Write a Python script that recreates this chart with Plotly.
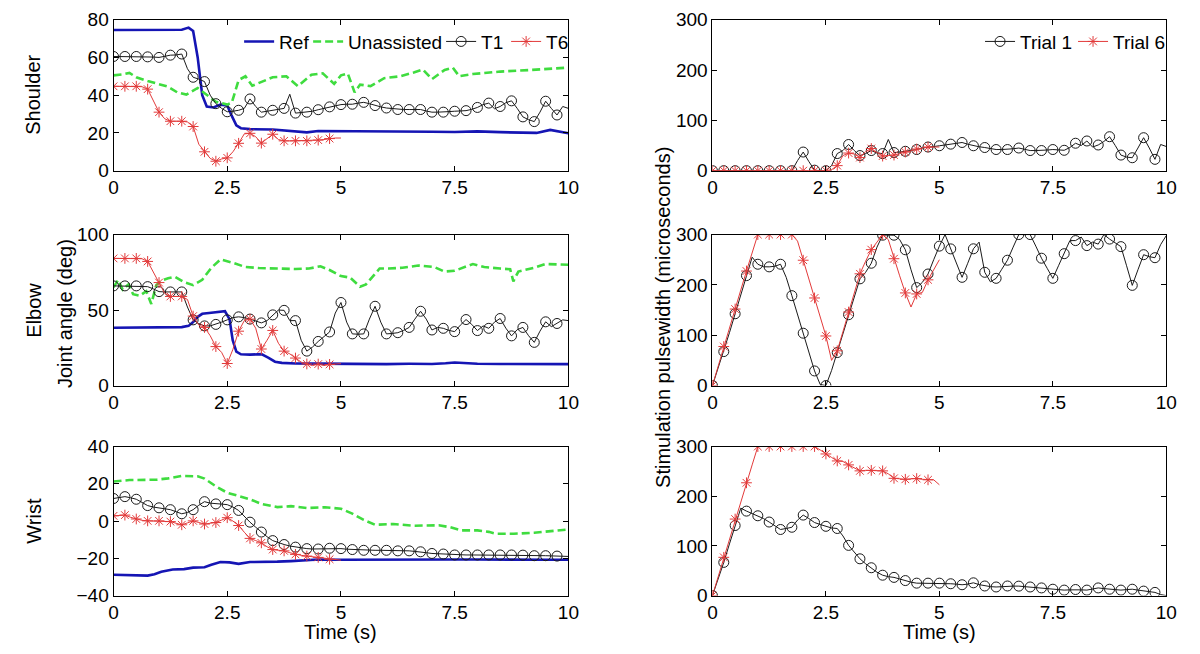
import numpy as np
import plotly.graph_objects as go

# ---------------- time grids ----------------
T_FULL = np.round(np.arange(0, 10.0001, 0.125), 3)   # trial 1 sampling (0..10 s)
T_HALF = T_FULL[:41]                                   # trial 6 sampling (0..5 s)

X_TICKS = [0, 2.5, 5, 7.5, 10]
X_TICKTEXT = ["0", "2.5", "5", "7.5", "10"]

# ---------------- joint angles: shoulder ----------------
ref_sh_t = [0, 0.5, 1.0, 1.5, 1.65, 1.75, 1.85, 1.95, 2.05, 2.2, 2.35, 2.5, 2.6, 2.7, 2.8, 3.0,
            3.5, 4.0, 4.25, 4.5, 5, 5.5, 6, 6.5, 7, 7.5, 8, 8.5, 9, 9.3, 9.6, 10]
ref_sh_v = [74.5, 74.5, 74.5, 74.7, 75.8, 74, 60, 40, 34, 33.5, 35, 34.5, 29, 24, 22.5, 22,
            21.8, 21, 20.3, 21, 21, 20.8, 21, 20.8, 20.6, 20.5, 20.8, 20.4, 20.3, 20, 21.6, 19.8]
una_sh_t = [0, 0.2, 0.35, 0.5, 0.75, 1.0, 1.2, 1.4, 1.6, 1.85, 2.0, 2.25, 2.5, 2.6, 2.75, 2.9,
            3.05, 3.25, 3.5, 3.8, 4.05, 4.35, 4.6, 4.85, 5.0, 5.15, 5.3, 5.42, 5.65, 5.95, 6.3,
            6.6, 6.8, 7.0, 7.28, 7.46, 7.6, 7.9, 8.5, 9.2, 10]
una_sh_v = [50.5, 51, 51.8, 49.5, 47.5, 46, 44.5, 41.5, 40.3, 43.8, 41, 36.5, 35, 36, 48, 50,
            45, 47, 49.5, 50, 44.8, 50.8, 51.6, 46, 50.5, 51.5, 41.5, 45.6, 44.8, 49, 50,
            52, 53.6, 48.5, 53.4, 54.6, 50, 51.2, 52.5, 53.4, 54.6]
t1_sh = [60.5, 60.5, 60.5, 60.5, 60.5, 60.4, 60.3, 60.2, 60.0,
         60.6, 61.2, 61.3, 61.8, 54, 49.5, 48.5, 47.2,
         40, 35.5, 33, 31.2, 31.5, 32, 33, 38,
         34, 31, 31.5, 32, 32.3, 33, 40.5, 30.5,
         30.8, 31, 31.5, 32.3, 33, 33.8, 34.5, 35,
         35.2, 35.2, 35.8, 36.2, 35.5, 34.5, 33.8, 33.2,
         32.8, 32.4, 32.4, 32.4, 32.5, 32.4, 31.6, 31,
         31, 31, 31.3, 31.5, 31.6, 31.8, 32.5, 33.5,
         35, 35.8, 32.8, 34, 36, 37, 33, 28.5,
         27, 26, 31, 36.8, 33, 29.5, 34, 33]
t6_sh = [44.7, 44.7, 44.7, 44.7, 44.7, 44.5, 43.2, 37, 31,
         27.5, 26.2, 26.2, 26.2, 25.8, 23.4, 14, 10,
         6.5, 5, 6.2, 6.8, 10, 14.5, 19.5, 19.8,
         18, 14.6, 17, 19.3, 16.5, 15.8, 15.8, 15.8,
         15.8, 15.8, 16, 16.2, 16.5, 17, 17.3, 17.3]

# ---------------- joint angles: elbow ----------------
ref_el_t = [0, 0.5, 1.0, 1.5, 1.65, 1.75, 1.85, 1.95, 2.1, 2.3, 2.45, 2.55, 2.62, 2.7, 2.8, 3.0,
            3.25, 3.4, 3.55, 3.7, 4.0, 4.5, 5, 5.5, 6, 6.5, 7, 7.3, 7.5, 7.8, 8, 8.5, 9, 9.5, 10]
ref_el_v = [38.3, 38.4, 38.5, 38.7, 39.5, 42, 45.5, 47.5, 48, 48.5, 49.2, 44, 30, 22.5, 20.7, 20.5,
            20.8, 18.5, 15.8, 15, 14.6, 14.5, 14.3, 14.5, 14.2, 14.4, 14.3, 14.8, 15.3, 14.8, 14.4,
            14.3, 14.3, 14.2, 14.2]
una_el_t = [0, 0.1, 0.2, 0.33, 0.43, 0.58, 0.72, 0.83, 0.94, 1.05, 1.2, 1.35, 1.55, 1.75, 1.95,
            2.15, 2.35, 2.6, 2.9, 3.2, 3.6, 4.0, 4.3, 4.55, 4.75, 5.0, 5.2, 5.42, 5.55, 5.85, 6.05,
            6.35, 6.7, 7.05, 7.27, 7.5, 7.9, 8.15, 8.5, 8.72, 8.79, 8.9, 9.25, 9.5, 10]
una_el_v = [65, 70, 63.5, 67, 60.5, 59.5, 62.5, 54, 66.5, 69.5, 71, 72, 68.5, 66.5, 70,
            78, 83.5, 81.5, 78.5, 77.8, 77.5, 77.2, 77.5, 79, 76.5, 72.5, 71.5, 65.5, 67, 77.5, 77.5,
            78, 79.5, 78.5, 75.5, 76, 80.5, 78.5, 77.5, 77, 69, 75.5, 78, 80.5, 80]
t1_el = [66, 66, 66, 66, 66, 65.8, 65.5, 64, 62.2,
         62, 62, 62, 62, 52, 43.5, 41, 39.5,
         39.5, 40.5, 42, 43.5, 45, 45.5, 45, 44,
         42.5, 41.5, 43, 46.8, 50, 49.8, 43, 43,
         30, 22.8, 25.5, 29.2, 32.5, 35.5, 48, 55,
         42, 34.2, 34, 34.2, 44, 52.5, 42, 34.2,
         34.5, 35, 36.5, 38.5, 44, 49.2, 44, 36.8,
         38.5, 37.9, 36.5, 35.7, 40, 43.7, 40.5, 36.4,
         39.5, 37.9, 42, 44.4, 38, 32.9, 37, 38.5,
         33, 28.6, 36, 42.2, 39, 41.1, 43.5, 43]
t6_el = [84.2, 84.2, 84.2, 84.2, 84.2, 84, 82.2, 75, 68.2,
         61, 59, 59, 59, 57, 46, 40, 38.5,
         33, 25.8, 22, 14.6, 24, 36, 43, 44,
         38, 24.2, 30, 36.5, 28, 22.8, 21, 18.2,
         15.5, 14.3, 13.2, 14.2, 13.2, 14, 14.3, 14.5]

# ---------------- joint angles: wrist ----------------
ref_wr_t = [0, 0.4, 0.75, 0.9, 1.05, 1.3, 1.55, 1.75, 2.0, 2.15, 2.35, 2.55, 2.75, 3.0, 3.3, 3.6,
            3.9, 4.2, 4.5, 5, 5.5, 6, 6.5, 7, 7.5, 8, 8.5, 9, 9.5, 10]
ref_wr_v = [-28.8, -29.2, -29.3, -28.5, -27.2, -26, -25.8, -25, -24.8, -23.5, -22, -22.2, -23, -22,
            -22, -21.8, -21.5, -21, -20.6, -20.8, -20.7, -20.5, -20.5, -20.4, -20.6, -20.6, -20.8,
            -21, -20.8, -20.8]
una_wr_t = [0, 0.35, 0.95, 1.2, 1.5, 1.85, 2.0, 2.25, 2.5, 2.75, 3.0, 3.25, 3.6, 3.9, 4.25, 4.65,
            5.0, 5.25, 5.5, 5.75, 6.15, 6.6, 7.15, 7.4, 7.65, 8.0, 8.25, 8.4, 8.8, 9.25, 9.65, 10]
una_wr_v = [21.2, 22, 22.2, 22.9, 24.2, 24, 22.8, 18.6, 15.2, 13.4, 11.7, 9.2, 7.5, 8, 7, 7.4,
            6.6, 4, 0.6, -2, -1.6, -2.5, -2.3, -3.3, -5, -5, -5.8, -6.8, -6.8, -6.3, -5.4, -4.5]
t1_wr = [12.1, 12.8, 13.1, 12.5, 11.7, 10, 8.3, 7.5, 7.1,
         6.7, 6.1, 5, 3.9, 4.6, 6.1, 8.5, 10.4,
         9.6, 9.2, 9.1, 8.8, 7.5, 5.7, 2.5, -0.6,
         -3.3, -5.9, -8.4, -10.5, -11.7, -12.6, -13.4, -14,
         -14.5, -14.8, -15, -15, -14.8, -14.6, -14.7, -14.8,
         -15.1, -15.3, -15.5, -15.7, -15.7, -15.7, -15.7, -15.7,
         -15.9, -16, -16, -16, -16.3, -16.5, -17, -17.4,
         -17.6, -17.7, -18, -18.2, -18.2, -18.2, -18.2, -18.2,
         -18.2, -18.2, -18.2, -18.2, -18.2, -18.2, -18.3, -18.3,
         -18.5, -18.6, -18.6, -18.6, -18.7, -18.8, -18.9, -19]
t6_wr = [2.8, 3.2, 3.2, 2, 1.1, 0.4, 0.1, 0.1, 0.1,
         -0.1, -0.3, -1.2, -2, -1, 0.1, -0.8, -1.6,
         -1.2, -0.8, 0.5, 1.8, 0, -2.4, -6, -9.3,
         -10.5, -11.7, -13.8, -15.3, -15.7, -16, -17, -17.9,
         -18.4, -18.8, -19.2, -19.5, -20, -20.5, -20.8, -21]

# ---------------- stimulation pulsewidth ----------------
pw1_sh = [0, 0, 0, 0, 0, 0, 0, 0, 0,
          0, 0, 0, 0, 0, 0, 20, 37,
          18, 1, 0, 0, 10, 34, 40, 52,
          40, 30, 34, 40, 35, 34, 62, 36,
          37, 38.5, 40, 42, 45, 47, 48.5, 49.5,
          51, 52.7, 54.5, 56, 52.5, 49.5, 47.5, 46,
          44, 42, 42, 42, 43.5, 45, 42.5, 40,
          40, 40, 41, 42, 41, 40.5, 46, 54.5,
          50, 59, 47, 51, 58, 67.5, 50, 31,
          27, 25.7, 45, 65.5, 45, 22.5, 52, 48]
pw6_sh = [0, 0, 0, 0, 0, 0, 0, 0, 0,
          0, 0, 0, 0, 0, 0, 0, 0,
          0, 0, 0, 0, 2, 10, 30, 35,
          33, 26, 38, 44, 36, 29, 30, 31,
          34, 37, 40, 43, 45, 47, 47, 47]
pw1_el = [0, 34, 67.5, 105, 142.6, 180, 218.4, 255, 241,
          236, 235.8, 237, 241, 215, 178.6, 141, 104,
          66, 29, 2, 0, 30, 65.5, 103, 140.7,
          177, 212, 225, 243, 275, 298.7, 299, 298.7,
          290, 269.8, 230, 194.6, 205, 221.6, 250, 277,
          300, 271.5, 243, 215, 243, 271.7, 285, 225,
          206, 213, 231, 249, 275, 300, 300, 300,
          277, 253, 233, 213, 238, 262, 288, 288,
          295, 278, 285, 281, 300, 291, 284, 276,
          238, 199, 230, 260, 256, 254, 280, 298]
pw6_el = [0, 39, 77.5, 115, 152, 190, 227.5, 265, 300,
          300, 300, 300, 300, 300, 300, 287, 249,
          211, 174, 136, 98.5, 50, 69, 107, 146,
          184, 222, 247, 270, 285, 300, 290, 252,
          218, 184, 156, 182, 185, 210, 230, 250]
pw1_wr = [0, 33, 66.8, 104, 141, 176, 170, 165, 160.6,
          155, 148, 140, 133, 135, 137.5, 152, 162,
          155, 147, 143, 139.4, 136, 135, 120, 101,
          87, 74, 64, 56, 47, 41, 38, 36.6,
          33, 30.2, 27, 25, 25, 25, 25, 25,
          24.5, 23.8, 23, 21.8, 23, 25.7, 22, 19.3,
          18, 17.3, 18, 19.3, 19, 19, 18, 17.3,
          16.5, 15.4, 14, 12.8, 12, 11, 11.5, 12.2,
          11.5, 11, 13, 15.4, 14, 12.8, 12, 11,
          12, 12.8, 11, 9, 8, 6.4, 2, 0]
pw6_wr = [0, 38, 77, 115, 154, 190, 227, 263, 300,
          300, 300, 300, 300, 300, 300, 300, 300,
          300, 300, 293, 285, 278, 271, 270, 263,
          257, 251, 252, 252, 252, 251, 245, 236,
          235, 234, 235, 235.5, 234, 233, 233, 223]

# ---------------- styling ----------------
FONT = "Liberation Sans"
FS = 19
C_REF = "#1515b4"
C_UNA = "#3fdc3f"
C_T1 = "#1a1a1a"
C_T6 = "#e23a3a"

# approximate text widths (px) of legend labels, used to tighten legend spacing
LEG_W = {"Ref": 24, "Unassisted": 88, "T1": 20, "T6": 22, "Trial 1": 48, "Trial 6": 53}

fig = go.Figure()


def add_trial(xa, ya, t, v, color, symbol, size, name, show, legend):
    n = len(v)
    fig.add_trace(go.Scatter(
        x=list(t[:n]), y=v, mode="lines+markers", name=name,
        xaxis=xa, yaxis=ya, showlegend=show, legend=legend, legendwidth=LEG_W[name],
        line=dict(color=color, width=1),
        marker=dict(symbol=symbol, size=size, color=color, line=dict(color=color, width=1)),
        selectedpoints=list(range(0, n - 1, 2)),
        selected=dict(marker=dict(opacity=1)),
        unselected=dict(marker=dict(opacity=0)),
    ))


left_panels = [
    ("x", "y", ref_sh_t, ref_sh_v, una_sh_t, una_sh_v, t1_sh, t6_sh, True),
    ("x2", "y2", ref_el_t, ref_el_v, una_el_t, una_el_v, t1_el, t6_el, False),
    ("x3", "y3", ref_wr_t, ref_wr_v, una_wr_t, una_wr_v, t1_wr, t6_wr, False),
]
for xa, ya, rt, rv, ut, uv, a1, a6, show in left_panels:
    fig.add_trace(go.Scatter(x=rt, y=rv, mode="lines", name="Ref", xaxis=xa, yaxis=ya,
                             showlegend=show, legend="legend", legendwidth=LEG_W["Ref"],
                             line=dict(color=C_REF, width=2.6)))
    fig.add_trace(go.Scatter(x=ut, y=uv, mode="lines", name="Unassisted", xaxis=xa, yaxis=ya,
                             showlegend=show, legend="legend", legendwidth=LEG_W["Unassisted"],
                             line=dict(color=C_UNA, width=2.6, dash="8px,4px")))
    add_trial(xa, ya, T_FULL, a1, C_T1, "circle-open", 10, "T1", show, "legend")
    add_trial(xa, ya, T_HALF, a6, C_T6, "asterisk-open", 9, "T6", show, "legend")

right_panels = [
    ("x4", "y4", pw1_sh, pw6_sh, True),
    ("x5", "y5", pw1_el, pw6_el, False),
    ("x6", "y6", pw1_wr, pw6_wr, False),
]
for xa, ya, a1, a6, show in right_panels:
    add_trial(xa, ya, T_FULL, a1, C_T1, "circle-open", 10, "Trial 1", show, "legend2")
    add_trial(xa, ya, T_HALF, a6, C_T6, "asterisk-open", 9, "Trial 6", show, "legend2")

# ---------------- axes ----------------
W, H = 1200, 654
LX = [110 / W, 571 / W]
RX = [717 / W, 1177 / W]
ROWS = [(10, 166), (232, 388), (451, 605)]


def ydom(r):
    return [1 - r[1] / H, 1 - r[0] / H]


def axis_common():
    return dict(ticks="inside", ticklen=5, tickwidth=1, tickcolor="black",
                showline=True, linecolor="black", linewidth=1, mirror="ticks",
                showgrid=False, zeroline=False,
                tickfont=dict(family=FONT, size=FS, color="black"))


yspecs = [
    ([0, 80], [0, 20, 40, 60, 80]),
    ([0, 100], [0, 50, 100]),
    ([-40, 40], [-40, -20, 0, 20, 40]),
]
layout_axes = {}
for i in range(6):
    k = i + 1
    col = 0 if i < 3 else 1
    row = i % 3
    xname = "xaxis" if k == 1 else f"xaxis{k}"
    yname = "yaxis" if k == 1 else f"yaxis{k}"
    xa = axis_common()
    xa.update(domain=LX if col == 0 else RX, range=[0, 10], tickvals=X_TICKS,
              ticktext=X_TICKTEXT, anchor="y" if k == 1 else f"y{k}")
    ya = axis_common()
    if col == 0:
        rng, tv = yspecs[row]
    else:
        rng, tv = [0, 300], [0, 100, 200, 300]
    ya.update(domain=ydom(ROWS[row]), range=rng, tickvals=tv,
              anchor="x" if k == 1 else f"x{k}")
    layout_axes[xname] = xa
    layout_axes[yname] = ya

fig.update_layout(**layout_axes)

ann_font = dict(family=FONT, size=FS + 1, color="black")
annotations = [
    dict(text="Shoulder", x=29 / W, y=1 - 88 / H, textangle=-90),
    dict(text="Elbow", x=29 / W, y=1 - 310 / H, textangle=-90),
    dict(text="Joint angle (deg)", x=61 / W, y=1 - 314 / H, textangle=-90),
    dict(text="Wrist", x=29 / W, y=1 - 528 / H, textangle=-90),
    dict(text="Stimulation pulsewidth (microseconds)", x=667 / W, y=1 - 318 / H, textangle=-90),
    dict(text="Time (s)", x=(110 + 571) / 2 / W, y=1 - 643 / H),
    dict(text="Time (s)", x=(717 + 1177) / 2 / W, y=1 - 643 / H),
]
for a in annotations:
    a.update(xref="paper", yref="paper", showarrow=False, font=ann_font,
             xanchor="center", yanchor="middle")

legend_style = dict(orientation="h", xanchor="right", yanchor="top",
                    font=dict(family=FONT, size=FS, color="black"),
                    bgcolor="rgba(0,0,0,0)", itemwidth=30, tracegroupgap=0)
fig.update_layout(
    width=W, height=H, autosize=False,
    margin=dict(l=0, r=0, t=0, b=0),
    paper_bgcolor="white", plot_bgcolor="white",
    annotations=annotations,
    legend=dict(x=LX[1] + 0.004, y=1 - 13 / H, **legend_style),
    legend2=dict(x=RX[1] + 0.004, y=1 - 13 / H, **legend_style),
    font=dict(family=FONT, size=FS, color="black"),
)

fig.write_html("out.html", include_plotlyjs=True, config={"displayModeBar": False},
               post_script="document.body.style.margin='0';document.body.style.overflow='hidden';")
